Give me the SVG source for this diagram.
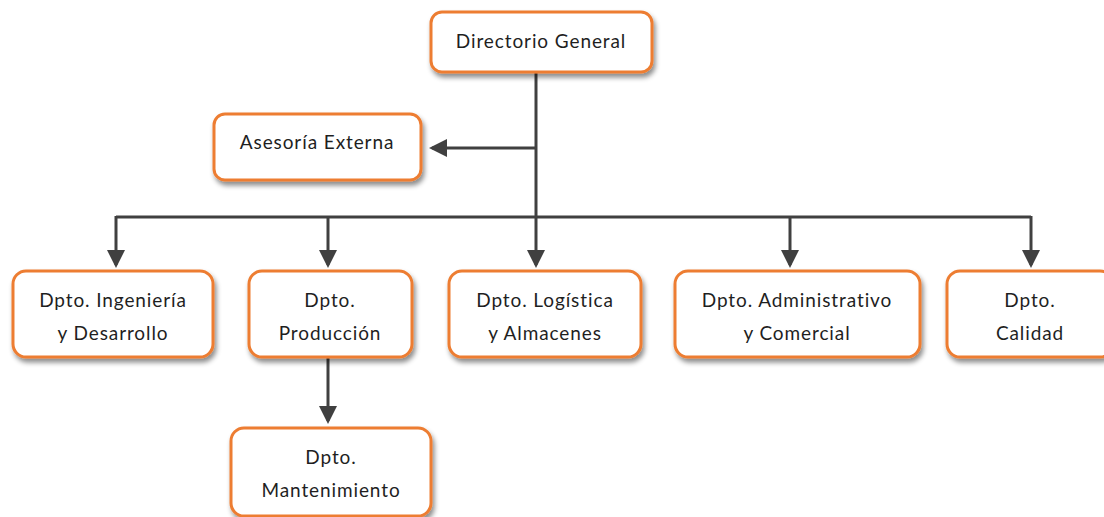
<svg xmlns="http://www.w3.org/2000/svg" width="1104" height="517" viewBox="0 0 1104 517">
<defs>
<style>
.box{fill:#fff;stroke:#ED7D31;stroke-width:3;filter:url(#sh)}
.t{font-family:Lato,"Open Sans",sans-serif;font-size:19px;letter-spacing:0.9px;fill:#1f1f1f;text-anchor:middle}
.c{fill:none;stroke:#404040;stroke-width:3}
</style>
<filter id="sh" x="-10%" y="-20%" width="130%" height="150%">
<feDropShadow dx="2" dy="4" stdDeviation="2.5" flood-color="#000" flood-opacity="0.45"/>
</filter>
<marker id="ah" markerWidth="6" markerHeight="6" refX="5" refY="3" orient="auto" markerUnits="strokeWidth">
<path d="M0,0 L6,3 L0,6 Z" fill="#404040"/>
</marker>
</defs>
<rect width="1104" height="517" fill="#fff"/>
<g id="connectors">
<path class="c" d="M536,72 V217"/>
<path class="c" d="M536,148 H432" marker-end="url(#ah)"/>
<path class="c" d="M116,217 H1031"/>
<path class="c" d="M116,216 V265" marker-end="url(#ah)"/>
<path class="c" d="M328,216 V265" marker-end="url(#ah)"/>
<path class="c" d="M536,216 V265" marker-end="url(#ah)"/>
<path class="c" d="M790,216 V265" marker-end="url(#ah)"/>
<path class="c" d="M1031,216 V265" marker-end="url(#ah)"/>
<path class="c" d="M328,357 V421" marker-end="url(#ah)"/>
</g>
<g id="n-director"><rect class="box" x="431" y="12" width="221" height="60" rx="11"/><text class="t" x="541" y="48">Directorio General</text></g>
<g id="n-asesoria"><rect class="box" x="214" y="114" width="207" height="66" rx="11"/><text class="t" x="317" y="149">Asesoría Externa</text></g>
<g id="n-ing"><rect class="box" x="13" y="271" width="200" height="86" rx="13"/><text class="t" x="113" y="307">Dpto. Ingeniería</text><text class="t" x="113" y="340">y Desarrollo</text></g>
<g id="n-prod"><rect class="box" x="249" y="271" width="163" height="86" rx="13"/><text class="t" x="330" y="307">Dpto.</text><text class="t" x="330" y="340">Producción</text></g>
<g id="n-log"><rect class="box" x="449" y="271" width="192" height="86" rx="13"/><text class="t" x="545" y="307">Dpto. Logística</text><text class="t" x="545" y="340">y Almacenes</text></g>
<g id="n-adm"><rect class="box" x="675" y="271" width="245" height="86" rx="13"/><text class="t" x="797" y="307">Dpto. Administrativo</text><text class="t" x="797" y="340">y Comercial</text></g>
<g id="n-cal"><rect class="box" x="947" y="271" width="166" height="86" rx="13"/><text class="t" x="1030" y="307">Dpto.</text><text class="t" x="1030" y="340">Calidad</text></g>
<g id="n-mant"><rect class="box" x="231" y="428" width="200" height="88" rx="13"/><text class="t" x="331" y="464">Dpto.</text><text class="t" x="331" y="497">Mantenimiento</text></g>
</svg>
